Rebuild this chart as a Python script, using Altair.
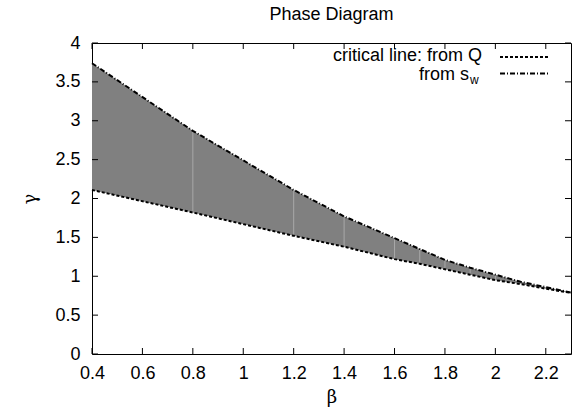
import altair as alt
import pandas as pd

# data
beta = [0.4, 0.8, 1.2, 1.4, 1.6, 1.7, 1.8, 1.9, 2.0, 2.1, 2.2, 2.3]
gamma_q = [2.11, 1.82, 1.52, 1.38, 1.22, 1.16, 1.09, 1.02, 0.95, 0.90, 0.84, 0.785]
gamma_sw = [3.74, 2.87, 2.11, 1.77, 1.49, 1.35, 1.21, 1.11, 1.02, 0.93, 0.86, 0.79]

x_ticks = [0.4, 0.6, 0.8, 1.0, 1.2, 1.4, 1.6, 1.8, 2.0, 2.2]
y_ticks = [0, 0.5, 1, 1.5, 2, 2.5, 3, 3.5, 4]

title_text = "Phase Diagram"
x_title = "β"
y_title = "γ"
legend_q = "critical line: from Q"
legend_sw = "from s"
legend_sw_sub = "w"

FONT = "Liberation Sans"
FS = 18
W, H = 479, 311

df = pd.DataFrame({"beta": beta, "q": gamma_q, "sw": gamma_sw})
df_inner = df.iloc[1:-1]
xt = pd.DataFrame({"v": x_ticks})
yt = pd.DataFrame({"v": y_ticks})

xs = alt.Scale(domain=[0.4, 2.3], nice=False, zero=False)
ys = alt.Scale(domain=[0, 4], nice=False, zero=False)

x_axis = alt.Axis(values=x_ticks, format="~g", ticks=False, domain=False, grid=False,
                  labelPadding=10, labelFlush=False, labelOverlap=False,
                  labelFont=FONT, labelFontSize=FS, labelColor="#000",
                  title=x_title, titleFont="DejaVu Serif", titleFontSize=FS, titleFontWeight="normal",
                  titlePadding=6, titleColor="#000")
y_axis = alt.Axis(values=y_ticks, format="~g", ticks=False, domain=False, grid=False,
                  labelPadding=12, labelFlush=False, labelOverlap=False,
                  labelFont=FONT, labelFontSize=FS, labelColor="#000",
                  title=y_title, titleFont="DejaVu Serif", titleFontSize=FS, titleFontWeight="normal",
                  titleX=-62, titleY=H / 2, titleBaseline="middle", titleAlign="center",
                  titleColor="#000")


def X(field):
    return alt.X(field, scale=xs, axis=x_axis, title=x_title)


def Y(field):
    return alt.Y(field, scale=ys, axis=y_axis, title=y_title)


base = alt.Chart(df)

area = base.mark_area(color="#808080", opacity=1).encode(
    x=X("beta:Q"), y=Y("q:Q"), y2="sw:Q",
)

seams = alt.Chart(df_inner).mark_rule(color="#a8a8a8", strokeWidth=1).encode(
    x=X("beta:Q"), y=Y("q:Q"), y2="sw:Q"
)

line_q = base.mark_line(color="black", strokeWidth=2, strokeDash=[3, 2]).encode(
    x=X("beta:Q"), y=Y("q:Q")
)
line_sw = base.mark_line(color="black", strokeWidth=2, strokeDash=[5, 2, 1, 2]).encode(
    x=X("beta:Q"), y=Y("sw:Q")
)

tick_len = 6
tb = alt.Chart(xt).mark_rule(color="black", strokeWidth=1).encode(
    x=X("v:Q"), y=alt.value(H), y2=alt.value(H - tick_len))
tt = alt.Chart(xt).mark_rule(color="black", strokeWidth=1).encode(
    x=X("v:Q"), y=alt.value(0), y2=alt.value(tick_len))
tl = alt.Chart(yt).mark_rule(color="black", strokeWidth=1).encode(
    y=Y("v:Q"), x=alt.value(0), x2=alt.value(tick_len))
tr = alt.Chart(yt).mark_rule(color="black", strokeWidth=1).encode(
    y=Y("v:Q"), x=alt.value(W), x2=alt.value(W - tick_len))

# legend
one = df.head(1)
leg_q_text = alt.Chart(one).mark_text(align="right", baseline="middle", font=FONT,
                                      fontSize=FS, color="black").encode(
    x=alt.value(390), y=alt.value(13), text=alt.value(legend_q))
leg_sw_text = alt.Chart(one).mark_text(align="right", baseline="middle", font=FONT,
                                       fontSize=FS, color="black").encode(
    x=alt.value(377), y=alt.value(31.5), text=alt.value(legend_sw))
leg_sw_sub = alt.Chart(one).mark_text(align="left", baseline="middle", font=FONT,
                                      fontSize=12, color="black").encode(
    x=alt.value(378), y=alt.value(37), text=alt.value(legend_sw_sub))
leg_q_line = alt.Chart(one).mark_rule(color="black", strokeWidth=2, strokeDash=[3, 2]).encode(
    x=alt.value(408), x2=alt.value(456), y=alt.value(14))
leg_sw_line = alt.Chart(one).mark_rule(color="black", strokeWidth=2, strokeDash=[5, 2, 1, 2]).encode(
    x=alt.value(408), x2=alt.value(456), y=alt.value(30.5))

title = alt.Chart(one).mark_text(align="center", baseline="middle", font=FONT,
                                 fontSize=FS, color="black").encode(
    x=alt.value(W / 2), y=alt.value(-28), text=alt.value(title_text))

chart = alt.layer(
    area, seams, line_q, line_sw, tb, tt, tl, tr,
    leg_q_text, leg_sw_text, leg_sw_sub, leg_q_line, leg_sw_line, title
).properties(
    width=W, height=H,
    autosize=alt.AutoSizeParams(type="none"),
    padding={"left": 92, "top": 43, "right": 1, "bottom": 57},
    background="white",
).configure_view(stroke="black", strokeWidth=1)

chart.save("out.html", embed_options={"renderer": "svg", "actions": False})
